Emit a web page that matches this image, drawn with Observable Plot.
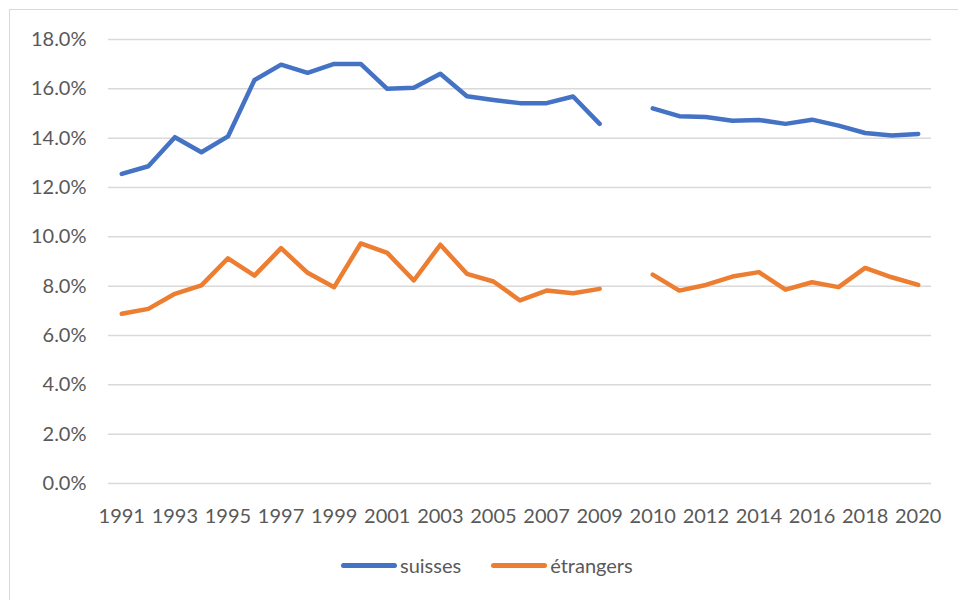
<!DOCTYPE html>
<html>
<head>
<meta charset="utf-8">
<script src="https://cdn.jsdelivr.net/npm/d3@7"></script>
<script src="https://cdn.jsdelivr.net/npm/@observablehq/plot@0.6"></script>
<style>
  html, body { margin: 0; padding: 0; background: #fff; overflow: hidden; }
  body { width: 958px; height: 600px; position: relative; font-family: Lato, "Open Sans", sans-serif; }
  #frame { position: absolute; left: 9px; top: 9px; width: 1000px; height: 1000px; border: 1.5px solid #d9d9d9; box-sizing: border-box; }
  #chart { position: absolute; left: 0; top: 0; }
  #legend { position: absolute; left: 341px; top: 553px; display: flex; align-items: center; font-size: 20px; color: #595959; font-family: Lato, "Open Sans", sans-serif; }
  .item { display: flex; align-items: center; margin-right: 30px; }
  .sw { width: 56px; height: 5px; border-radius: 3px; margin-right: 3px; }
</style>
</head>
<body>
<div id="frame"></div>
<div id="chart"></div>
<div id="legend"></div>
<script>
const categories = ["1991","1992","1993","1994","1995","1996","1997","1998","1999","2000",
  "2001","2002","2003","2004","2005","2006","2007","2008","2009","",
  "2010","2011","2012","2013","2014","2015","2016","2017","2018","2019","2020"];
const tickLabels = ["1991","1993","1995","1997","1999","2001","2003","2005","2007","2009",
  "2010","2012","2014","2016","2018","2020"];
const suisses = [12.55,12.86,14.04,13.43,14.07,16.36,16.98,16.65,17.01,17.01,
  16.00,16.04,16.61,15.70,15.55,15.42,15.42,15.69,14.58,null,
  15.21,14.89,14.86,14.71,14.74,14.58,14.75,14.51,14.21,14.11,14.17];
const etrangers = [6.88,7.08,7.69,8.03,9.13,8.43,9.54,8.54,7.96,9.73,
  9.35,8.23,9.68,8.50,8.19,7.42,7.82,7.71,7.89,null,
  8.47,7.82,8.05,8.39,8.57,7.86,8.16,7.96,8.74,8.36,8.05];
const yTicks = [0,2,4,6,8,10,12,14,16,18];
const seriesNames = ["suisses","étrangers"];
const colors = ["#4472C4","#ED7D31"];

const rows = [];
categories.forEach((c, i) => {
  rows.push({cat: c, serie: seriesNames[0], v: suisses[i]});
  rows.push({cat: c, serie: seriesNames[1], v: etrangers[i]});
});

const chart = Plot.plot({
  width: 958,
  height: 540,
  marginLeft: 108,
  marginRight: 27,
  marginTop: 39,
  marginBottom: 57,
  style: {fontFamily: "Lato, 'Open Sans', sans-serif", fontSize: "20px", color: "#595959", background: "transparent"},
  x: {type: "band", domain: categories, padding: 0, round: false},
  y: {domain: [0, 18]},
  color: {domain: seriesNames, range: colors},
  marks: [
    Plot.gridY(yTicks, {stroke: "#d9d9d9", strokeOpacity: 1, strokeWidth: 1.5}),
    Plot.axisY(yTicks, {tickSize: 0, tickPadding: 22, tickFormat: d => d.toFixed(1) + "%", fill: "#595959", fontSize: 20, label: null}),
    Plot.axisX(tickLabels, {tickSize: 0, tickPadding: 25, fill: "#595959", fontSize: 20, label: null}),
    Plot.line(rows, {x: "cat", y: "v", z: "serie", stroke: "serie", strokeWidth: 4.5, strokeLinecap: "round", strokeLinejoin: "round"})
  ]
});
document.getElementById("chart").appendChild(chart);

const legend = document.getElementById("legend");
seriesNames.forEach((s, i) => {
  const it = document.createElement("div");
  it.className = "item";
  const sw = document.createElement("div");
  sw.className = "sw";
  sw.style.background = colors[i];
  const t = document.createElement("span");
  t.textContent = s;
  it.appendChild(sw); it.appendChild(t);
  legend.appendChild(it);
});
</script>
</body>
</html>
